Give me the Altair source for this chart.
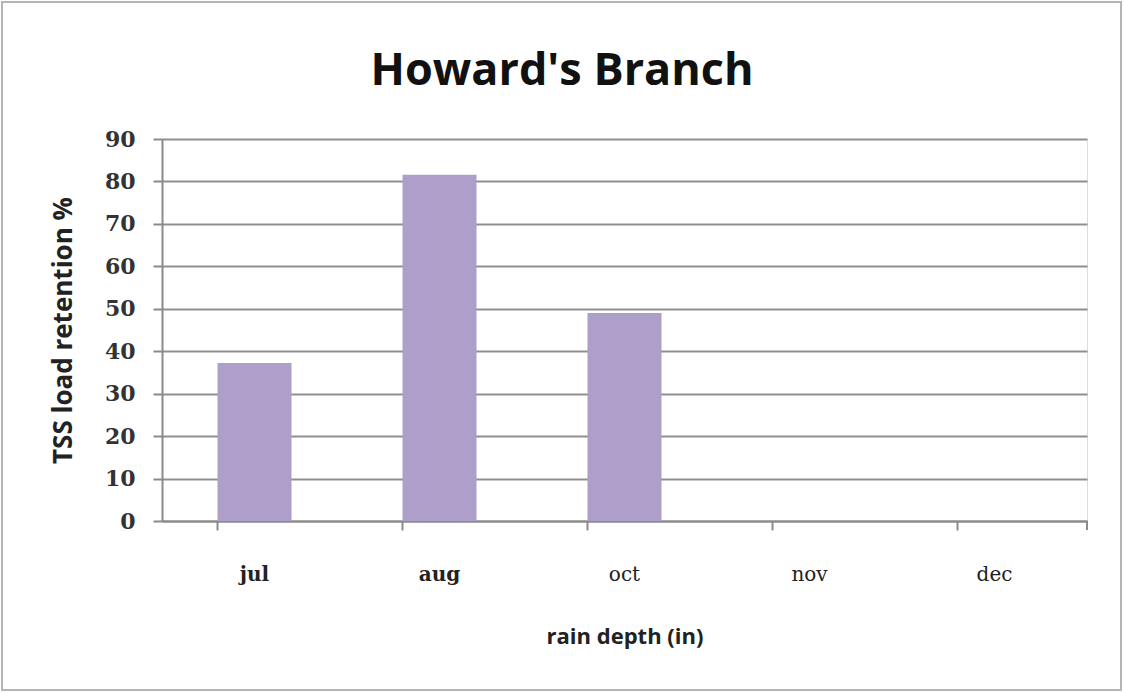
import altair as alt
import pandas as pd

# Monthly TSS load retention at Howard's Branch
months = ["jul", "aug", "oct", "nov", "dec"]
retention = [37.2, 81.6, 49.0, None, None]
chart_title = "Howard's Branch"

df = pd.DataFrame({"month": months, "retention": retention})

W, H = 925, 382
PAD_L, PAD_T, PAD_R, PAD_B = 162, 139, 37, 172

x_enc = alt.X(
    "month:N",
    sort=months,
    scale=alt.Scale(paddingInner=0.6, paddingOuter=0.3),
    axis=alt.Axis(
        title="rain depth (in)",
        titleFont="Open Sans",
        titleFontSize=22,
        titleFontWeight="bold",
        titleColor="#222222",
        titlePadding=42,
        labelAngle=0,
        labelFont="DejaVu Serif",
        labelFontSize=20,
        labelFontWeight={"condition": {"test": "indexof(['jul','aug'], datum.value) >= 0", "value": "bold"}, "value": "normal"},
        labelColor="#222222",
        labelPadding=34,
        bandPosition=0,
        tickSize=9,
        tickColor="#8a8a8a",
        tickWidth=2,
        domainColor="#8a8a8a",
        domainWidth=2,
        grid=False,
    ),
)

y_enc = alt.Y(
    "retention:Q",
    scale=alt.Scale(domain=[0, 90]),
    axis=alt.Axis(
        title="TSS load retention %",
        titleFont="Open Sans",
        titleFontSize=26,
        titleFontWeight="bold",
        titleColor="#222222",
        titlePadding=28,
        values=list(range(0, 91, 10)),
        labelFont="DejaVu Serif",
        labelFontSize=22,
        labelFontWeight="bold",
        labelColor="#333333",
        labelPadding=18,
        tickSize=9,
        tickColor="#8a8a8a",
        tickWidth=2,
        domainColor="#8a8a8a",
        domainWidth=2,
        gridColor="#8f8f8f",
        gridWidth=2,
    ),
)

bars = alt.Chart(df).mark_bar(color="#ae9fca").encode(x=x_enc, y=y_enc)

# closing tick at the right end of the category axis
end_tick = alt.Chart(df).mark_rule(color="#8a8a8a", strokeWidth=2).encode(
    x=alt.value(W), y=alt.value(H), y2=alt.value(H + 9)
)

# frame around the whole chart
frame = alt.Chart(df).mark_rect(fill=None, stroke="#b5b5b5", strokeWidth=2).encode(
    x=alt.value(-PAD_L + 2), x2=alt.value(W + PAD_R - 3),
    y=alt.value(-PAD_T + 2), y2=alt.value(H + PAD_B - 3),
)

# chart heading, centred on the whole chart frame
frame_centre = (-PAD_L + W + PAD_R) / 2
heading = alt.Chart(df).transform_filter("datum.month == 'jul'").mark_text(
    font="Open Sans", fontSize=45, fontWeight="bold", color="#111111",
    align="center", baseline="alphabetic",
).encode(
    x=alt.value(frame_centre), y=alt.value(-54), text=alt.value(chart_title)
)

chart = (
    alt.layer(bars, end_tick, frame, heading)
    .properties(
        width=W,
        height=H,
        autosize=alt.AutoSizeParams(type="none"),
        padding={"left": PAD_L, "top": PAD_T, "right": PAD_R, "bottom": PAD_B},
    )
    .configure_view(stroke=None)
    .configure(background="white")
)

chart.save("out.html", embed_options={"renderer": "svg", "actions": False})
